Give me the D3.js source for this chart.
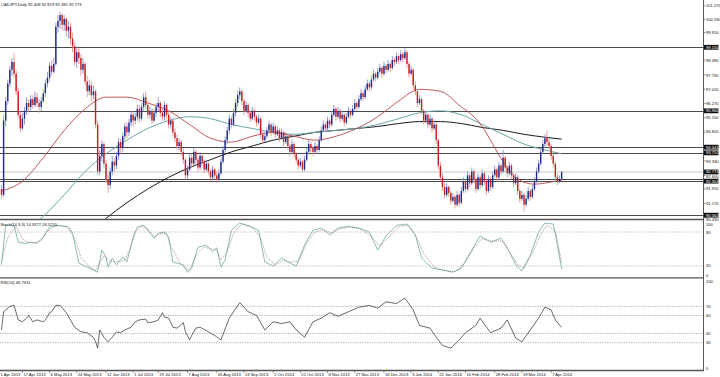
<!DOCTYPE html>
<html lang="en">
<head>
<meta charset="UTF-8">
<title>CADJPY,Daily</title>
<script src="https://d3js.org/d3.v7.min.js"></script>
<style>
  body { margin: 0; background: #fff; }
  svg text { font-family: "Liberation Sans", Arial, sans-serif; font-size: 4.1px; fill: #111; }
</style>
</head>
<body>
<div id="chart"></div>
<script>
// daily bars, [open, high, low, close], from 3 Apr 2013
const candles = [
  [91.90,92.10,91.40,91.60],[91.60,95.70,91.50,95.40],[95.40,96.60,95.10,96.40],[96.40,97.50,96.20,97.30],[97.30,98.20,97.10,98.00],
  [98.00,98.60,97.70,98.40],[98.40,98.85,97.60,97.80],[97.80,98.00,96.70,96.90],[96.90,97.10,95.50,95.70],[95.70,95.90,94.80,95.00],
  [95.00,95.80,94.90,95.50],[95.50,96.10,95.20,95.90],[95.90,96.60,95.70,96.30],[96.30,96.50,95.80,96.10],[96.10,96.70,95.90,96.50],
  [96.50,96.70,96.00,96.20],[96.20,96.90,96.10,96.60],[96.60,96.80,96.10,96.30],[96.30,96.50,95.80,96.10],[96.10,96.60,95.90,96.40],
  [96.40,97.00,96.30,96.80],[96.80,97.50,96.60,97.30],[97.30,97.90,97.10,97.60],[97.60,98.40,97.40,98.20],[98.20,98.50,97.70,97.90],
  [97.90,98.60,97.80,98.30],[98.30,100.40,98.20,100.20],[100.20,100.80,99.90,100.50],[100.50,100.97,100.10,100.80],[100.80,100.90,100.00,100.30],
  [100.30,100.80,100.00,100.60],[100.60,100.70,99.70,100.00],[100.00,100.50,99.60,100.20],[100.20,100.40,99.30,99.60],[99.60,99.90,98.90,99.20],
  [99.20,99.40,98.20,98.40],[98.40,99.20,98.10,98.90],[98.90,99.10,98.30,98.60],[98.60,98.80,97.70,98.00],[98.00,98.60,97.80,98.30],
  [98.30,98.40,97.20,97.40],[97.40,97.70,96.60,96.90],[96.90,97.50,96.70,97.20],[97.20,97.40,96.40,96.70],[96.70,97.20,96.50,96.90],
  [96.90,97.00,95.00,95.20],[95.20,95.40,92.60,92.80],[92.80,93.90,92.60,93.60],[93.60,94.40,93.30,94.20],[94.20,94.30,93.00,93.20],
  [93.20,93.40,92.20,92.40],[92.40,92.70,91.70,92.10],[92.10,93.00,91.90,92.80],[92.80,93.60,92.60,93.30],[93.30,93.50,92.80,93.10],
  [93.10,93.80,92.90,93.60],[93.60,94.50,93.40,94.30],[94.30,94.50,93.70,94.00],[94.00,94.80,93.80,94.60],[94.60,95.30,94.40,95.10],
  [95.10,95.30,94.50,94.80],[94.80,95.50,94.60,95.30],[95.30,95.90,95.10,95.70],[95.70,95.90,95.10,95.40],[95.40,95.80,95.20,95.60],
  [95.60,96.20,95.40,96.00],[96.00,96.20,95.30,95.50],[95.50,96.30,95.40,96.10],[96.10,96.80,95.90,96.60],[96.60,96.90,96.00,96.20],
  [96.20,96.40,95.50,95.70],[95.70,96.10,95.50,95.90],[95.90,96.00,95.20,95.40],[95.40,96.00,95.30,95.80],[95.80,96.30,95.60,96.10],
  [96.10,96.60,95.90,96.30],[96.30,96.40,95.60,95.80],[95.80,96.00,95.40,95.60],[95.60,96.40,95.40,96.20],[96.20,96.30,95.50,95.70],
  [95.70,95.90,95.00,95.20],[95.20,95.60,95.00,95.40],[95.40,95.50,94.60,94.80],[94.80,95.00,94.30,94.50],[94.50,94.70,93.90,94.10],
  [94.10,94.50,93.90,94.30],[94.30,94.40,93.60,93.80],[93.80,94.00,93.20,93.40],[93.40,93.50,92.40,92.60],[92.60,93.10,92.40,92.90],
  [92.90,93.70,92.80,93.50],[93.50,93.70,93.00,93.20],[93.20,94.00,93.10,93.80],[93.80,93.90,93.20,93.40],[93.40,93.50,92.80,93.00],
  [93.00,93.80,92.90,93.60],[93.60,93.70,93.10,93.30],[93.30,93.40,92.70,92.90],[92.90,93.40,92.80,93.20],[93.20,93.30,92.60,92.80],
  [92.80,92.90,92.30,92.50],[92.50,93.10,92.40,92.90],[92.90,93.00,92.40,92.60],[92.60,92.80,92.20,92.40],[92.40,92.90,92.30,92.70],
  [92.70,93.50,92.60,93.30],[93.30,94.10,93.20,93.90],[93.90,94.60,93.70,94.40],[94.40,95.10,94.20,94.90],[94.90,95.70,94.70,95.50],
  [95.50,95.60,95.00,95.20],[95.20,96.00,95.10,95.80],[95.80,96.50,95.60,96.30],[96.30,96.90,96.10,96.70],[96.70,97.10,96.50,96.90],
  [96.90,97.00,96.20,96.40],[96.40,96.50,95.70,95.90],[95.90,96.40,95.80,96.20],[96.20,96.30,95.60,95.80],[95.80,95.90,95.30,95.50],
  [95.50,96.10,95.40,95.90],[95.90,96.00,95.40,95.60],[95.60,95.70,95.10,95.30],[95.30,95.70,95.20,95.50],[95.50,95.60,94.50,94.70],
  [94.70,94.90,94.20,94.40],[94.40,94.80,94.30,94.60],[94.60,95.10,94.50,94.90],[94.90,95.40,94.80,95.20],[95.20,95.30,94.60,94.80],
  [94.80,95.30,94.70,95.10],[95.10,95.20,94.50,94.70],[94.70,95.10,94.60,94.90],[94.90,95.00,94.30,94.50],[94.50,95.00,94.40,94.80],
  [94.80,94.90,94.10,94.30],[94.30,94.80,94.20,94.60],[94.60,94.70,93.90,94.10],[94.10,94.20,93.60,93.80],[93.80,94.40,93.70,94.20],
  [94.20,94.30,93.50,93.70],[93.70,93.80,93.20,93.40],[93.40,93.50,92.90,93.10],[93.10,93.50,93.00,93.30],[93.30,93.40,92.80,92.90],
  [92.90,93.60,92.80,93.40],[93.40,94.00,93.30,93.80],[93.80,94.40,93.70,94.20],[94.20,94.30,93.80,94.00],[94.00,94.10,93.60,93.80],
  [93.80,94.30,93.70,94.10],[94.10,94.20,93.70,93.90],[93.90,94.60,93.80,94.40],[94.40,95.10,94.30,94.90],[94.90,95.40,94.80,95.20],
  [95.20,95.30,94.80,95.00],[95.00,95.60,94.90,95.40],[95.40,95.50,95.00,95.20],[95.20,95.90,95.10,95.70],[95.70,96.20,95.60,96.00],
  [96.00,96.10,95.40,95.60],[95.60,96.10,95.50,95.90],[95.90,96.00,95.30,95.50],[95.50,95.90,95.40,95.70],[95.70,95.80,95.10,95.30],
  [95.30,95.80,95.20,95.60],[95.60,96.10,95.50,95.90],[95.90,96.00,95.50,95.70],[95.70,96.20,95.60,96.00],[96.00,96.50,95.90,96.30],
  [96.30,96.40,95.90,96.10],[96.10,96.70,96.00,96.50],[96.50,97.00,96.40,96.80],[96.80,96.90,96.40,96.60],[96.60,97.20,96.50,97.00],
  [97.00,97.50,96.90,97.30],[97.30,97.40,96.90,97.10],[97.10,97.70,97.00,97.50],[97.50,98.00,97.40,97.80],[97.80,97.90,97.40,97.60],
  [97.60,98.10,97.50,97.90],[97.90,98.30,97.80,98.10],[98.10,98.20,97.60,97.80],[97.80,98.40,97.70,98.20],[98.20,98.30,97.80,98.00],
  [98.00,98.50,97.90,98.30],[98.30,98.40,97.90,98.10],[98.10,98.70,98.00,98.50],[98.50,98.60,98.20,98.40],[98.40,98.90,98.30,98.70],
  [98.70,98.80,98.30,98.50],[98.50,99.00,98.40,98.80],[98.80,98.90,98.40,98.60],[98.60,99.10,98.50,98.90],[98.90,99.00,98.10,98.30],
  [98.30,98.40,97.60,97.80],[97.80,98.20,97.70,98.00],[98.00,98.10,97.00,97.20],[97.20,97.40,96.70,96.90],[96.90,97.00,96.10,96.30],
  [96.30,96.70,96.20,96.50],[96.50,96.60,95.70,95.90],[95.90,96.00,95.20,95.40],[95.40,95.90,95.30,95.70],[95.70,95.80,95.00,95.20],
  [95.20,95.70,95.10,95.50],[95.50,95.60,94.80,95.00],[95.00,95.40,94.90,95.20],[95.20,95.30,94.20,94.40],[94.40,94.50,92.90,93.10],
  [93.10,93.30,92.30,92.50],[92.50,92.70,91.80,92.00],[92.00,92.20,91.40,91.60],[91.60,92.20,91.50,92.00],[92.00,92.10,91.50,91.70],
  [91.70,91.80,91.10,91.30],[91.30,91.70,91.20,91.50],[91.50,91.60,90.90,91.10],[91.10,91.80,91.00,91.60],[91.60,91.70,91.00,91.20],
  [91.20,92.00,91.10,91.80],[91.80,92.50,91.70,92.30],[92.30,92.40,91.70,91.90],[91.90,92.80,91.80,92.60],[92.60,92.70,92.00,92.20],
  [92.20,93.00,92.10,92.80],[92.80,92.90,92.20,92.40],[92.40,92.50,91.70,91.90],[91.90,92.70,91.80,92.50],[92.50,92.60,91.90,92.10],
  [92.10,92.90,92.00,92.70],[92.70,92.80,92.10,92.30],[92.30,92.40,91.60,91.80],[91.80,92.60,91.70,92.40],[92.40,92.50,91.80,92.00],
  [92.00,92.80,91.90,92.60],[92.60,93.10,92.50,92.90],[92.90,93.00,92.30,92.50],[92.50,93.30,92.40,93.10],[93.10,93.20,92.60,92.80],
  [92.80,93.90,92.70,93.50],[93.50,93.60,92.80,93.00],[93.00,93.10,92.50,92.70],[92.70,93.30,92.60,93.10],[93.10,93.20,92.40,92.60],
  [92.60,92.70,92.00,92.20],[92.20,92.70,92.10,92.50],[92.50,92.60,91.60,91.80],[91.80,91.90,91.20,91.40],[91.40,91.80,91.30,91.60],
  [91.60,91.70,90.75,91.10],[91.10,91.60,91.00,91.40],[91.40,92.00,91.30,91.80],[91.80,91.90,91.30,91.50],[91.50,92.10,91.40,91.90],
  [91.90,92.50,91.80,92.30],[92.30,93.00,92.20,92.80],[92.80,93.40,92.70,93.20],[93.20,94.00,93.10,93.80],[93.80,94.40,93.70,94.20],
  [94.20,94.70,94.00,94.50],[94.50,94.91,94.10,94.30],[94.30,94.50,93.90,94.10],[94.10,94.20,93.40,93.60],[93.60,93.80,93.00,93.20],
  [93.20,93.30,92.30,92.50],[92.50,92.70,92.10,92.30],[92.30,92.60,92.20,92.41],[92.408,92.819,92.385,92.773]
];

// moving averages, [bar, price]
const maRed = [[0,91.8],[10,92.3],[20,93.5],[30,94.9],[40,96.0],[50,96.6],[60,96.6],[70,96.3],[80,95.9],[90,95.2],[100,94.5],[110,94.3],[120,94.6],[130,94.8],[140,94.6],[150,94.4],[160,94.6],[170,95.0],[180,95.6],[190,96.4],[200,97.0],[210,96.9],[220,96.1],[225,95.7],[230,95.1],[235,94.2],[240,93.3],[245,92.6],[250,92.25],[255,92.15],[260,92.2],[265,92.3],[268,92.35]];
const maTeal = [[0,88.9],[10,89.6],[20,90.5],[30,91.6],[40,92.8],[50,93.7],[60,94.4],[70,95.0],[80,95.4],[90,95.6],[100,95.5],[110,95.2],[120,95.0],[130,94.8],[140,94.7],[150,94.8],[160,94.9],[170,95.0],[180,95.2],[190,95.5],[200,95.8],[210,95.9],[220,95.7],[230,95.2],[240,94.7],[250,94.2],[260,93.9],[268,93.7]];
const maBlack = [[40,89.5],[50,90.4],[60,91.2],[70,91.9],[80,92.5],[90,93.0],[100,93.4],[110,93.8],[120,94.1],[130,94.4],[140,94.6],[150,94.8],[160,94.9],[170,95.0],[180,95.1],[190,95.25],[200,95.35],[210,95.35],[220,95.25],[230,95.05],[240,94.9],[250,94.7],[260,94.55],[268,94.45]];

// horizontal levels drawn on the chart
const levels = [99.150, 95.900, 94.041, 93.751, 92.420, 92.304, 90.562];
const boxedLevels = [99.150, 95.900, 94.041, 93.751, 92.304, 90.562];
const bidPrice = 92.773;
const priceTicks = [101.270, 100.590, 99.910, 98.490, 97.730, 97.010, 96.270, 95.550, 94.820, 93.330, 92.600, 91.910, 91.170, 90.430];

// stochastic (14,3,3), [bar, value]
const stochMain = [[0,22],[2,92],[6,92],[8,62],[11,60],[14,62],[17,60],[20,71],[23,89],[27,92],[32,89],[34,78],[37,25],[41,18],[44,13],[46,9],[48,48],[50,36],[51,18],[53,34],[55,22],[58,36],[60,27],[63,71],[65,89],[68,92],[70,83],[73,69],[75,78],[78,80],[80,71],[82,27],[87,22],[89,9],[91,16],[94,53],[98,57],[101,45],[103,52],[105,18],[107,31],[110,83],[114,96],[119,90],[123,83],[126,27],[130,20],[134,34],[137,27],[141,20],[145,57],[149,83],[153,87],[157,75],[161,87],[166,90],[171,87],[176,80],[180,48],[184,73],[189,92],[194,94],[198,75],[201,34],[206,16],[211,13],[216,9],[220,16],[225,48],[229,73],[234,62],[239,69],[243,45],[246,22],[249,11],[253,39],[257,80],[260,96],[264,94],[266,57],[268,14.9]];
const stochSignal = [[0,30],[3,70],[7,90],[10,68],[13,61],[16,61],[19,65],[22,82],[26,91],[31,90],[35,70],[38,35],[42,19],[45,12],[47,25],[49,38],[52,28],[54,27],[57,28],[59,31],[62,55],[64,80],[67,90],[70,86],[73,72],[76,77],[79,77],[81,55],[85,28],[88,15],[90,13],[93,38],[97,54],[100,50],[103,49],[105,30],[108,45],[111,78],[115,94],[120,88],[124,70],[127,35],[131,22],[135,30],[138,27],[142,28],[146,60],[150,80],[154,84],[158,78],[162,86],[167,89],[172,85],[177,72],[181,55],[185,70],[190,90],[195,92],[199,68],[202,42],[207,18],[212,12],[217,10],[221,22],[226,52],[230,68],[235,64],[240,64],[244,40],[247,22],[250,16],[254,42],[258,76],[261,92],[265,82],[267,45],[268,26.5]];

// RSI(14), [bar, value]
const rsi = [[0,44],[1,64],[4,70],[6,71],[8,55],[10,53],[12,57],[13,60],[15,53],[17,55],[20,53],[21,55],[23,63],[24,64],[26,71],[28,71],[31,63],[33,55],[35,47],[38,42],[41,41],[44,36],[45,31],[46,24],[47,44],[49,36],[51,31],[53,36],[55,42],[57,41],[59,44],[62,47],[64,53],[66,55],[69,56],[70,52],[73,53],[75,55],[77,63],[78,58],[80,57],[82,47],[84,46],[87,52],[88,42],[90,33],[91,38],[93,46],[95,47],[99,42],[102,38],[105,33],[109,57],[114,74],[118,64],[122,60],[126,44],[130,53],[134,51],[138,53],[141,44],[145,36],[149,53],[153,57],[157,63],[161,59],[166,64],[171,69],[176,71],[180,68],[184,75],[189,73],[193,79],[197,66],[200,49],[205,46],[209,33],[211,27],[215,24],[219,33],[222,41],[227,49],[229,57],[234,41],[239,46],[242,55],[246,35],[249,31],[253,44],[257,57],[260,69],[263,66],[265,55],[268,46.76]];

const dateTicks = [[-1,'1 Apr 2013'],[10,'17 Apr 2013'],[23,'6 May 2013'],[36,'24 May 2013'],[50,'12 Jun 2013'],[63,'1 Jul 2013'],[75,'19 Jul 2013'],[89,'7 Aug 2013'],[103,'26 Aug 2013'],[116,'13 Sep 2013'],[130,'2 Oct 2013'],[143,'21 Oct 2013'],[156,'8 Nov 2013'],[169,'27 Nov 2013'],[183,'16 Dec 2013'],[196,'3 Jan 2014'],[209,'22 Jan 2014'],[222,'10 Feb 2014'],[236,'28 Feb 2014'],[249,'19 Mar 2014'],[263,'7 Apr 2014']];

const W = 720, H = 377;
const plotRight = 703.5;
const mainTop = 0, mainBottom = 219;
const stTop = 220.7, stBottom = 277.3;
const rsiTop = 279, rsiBottom = 370;

const svg = d3.select('#chart').append('svg')
  .attr('width', W).attr('height', H)
  .style('display', 'block');

const x = d3.scaleLinear().domain([0, 336]).range([1.5, 1.5 + 336 * 2.09]);
const y = d3.scaleLinear().domain([90.367, 101.57]).range([mainBottom, mainTop]);
const yS = d3.scaleLinear().domain([0, 100]).range([stBottom, stTop]);
const yR = d3.scaleLinear().domain([0, 100]).range([rsiBottom, rsiTop]);

svg.append('defs').append('clipPath').attr('id', 'clipMain')
  .append('rect').attr('x', 0).attr('y', 0).attr('width', plotRight).attr('height', mainBottom);

const main = svg.append('g').attr('clip-path', 'url(#clipMain)');

// bid line
main.append('line')
  .attr('x1', 0).attr('x2', plotRight)
  .attr('y1', y(bidPrice)).attr('y2', y(bidPrice))
  .attr('stroke', '#c8c8c8').attr('stroke-width', 1);

// support / resistance
main.selectAll('.lvl').data(levels).join('line')
  .attr('class', 'lvl')
  .attr('x1', 0).attr('x2', plotRight)
  .attr('y1', d => Math.round(y(d)) + 0.5).attr('y2', d => Math.round(y(d)) + 0.5)
  .attr('stroke', '#4a4a4a').attr('stroke-width', 1.2);

// moving averages
const maLine = d3.line().x(d => x(d[0])).y(d => y(d[1])).curve(d3.curveMonotoneX);
main.append('path').datum(maBlack).attr('d', maLine)
  .attr('fill', 'none').attr('stroke', '#1a1a1a').attr('stroke-width', 1);
main.append('path').datum(maTeal).attr('d', maLine)
  .attr('fill', 'none').attr('stroke', '#6aa5a8').attr('stroke-width', 1);
main.append('path').datum(maRed).attr('d', maLine)
  .attr('fill', 'none').attr('stroke', '#b8474a').attr('stroke-width', 0.9);

// candles
const up = '#1c2a8c', down = '#c81e1e';
const bars = main.selectAll('.bar').data(candles).join('g').attr('class', 'bar');
bars.append('line')
  .attr('x1', (d, i) => x(i)).attr('x2', (d, i) => x(i))
  .attr('y1', d => y(d[1])).attr('y2', d => y(d[2]))
  .attr('stroke', d => d[3] >= d[0] ? '#7d86c4' : '#e08a8a')
  .attr('stroke-width', 0.8);
bars.append('rect')
  .attr('x', (d, i) => x(i) - 0.7).attr('width', 1.4)
  .attr('y', d => y(Math.max(d[0], d[3])))
  .attr('height', d => Math.max(0.6, Math.abs(y(d[0]) - y(d[3]))))
  .attr('fill', d => d[3] >= d[0] ? up : down);

// title
svg.append('text').attr('x', 1).attr('y', 6)
  .text('CADJPY,Daily  92.408 92.819 92.385 92.773');

// price axis labels, nudged off the boxed level labels
const axisX = plotRight + 2.5;
const boxed = boxedLevels.concat([bidPrice]);
const boxYs = boxed.map(d => y(d));
function tickY(d) {
  let ty = y(d);
  boxYs.forEach(b => {
    if (Math.abs(ty - b) < 4.2) ty = b + (ty > b ? 4.2 : -4.2);
  });
  return ty + 1.5;
}
svg.selectAll('.ptick').data(priceTicks).join('text')
  .attr('class', 'ptick')
  .attr('x', axisX).attr('y', tickY)
  .text(d => d.toFixed(3));
svg.selectAll('.ptm').data(priceTicks).join('line')
  .attr('class', 'ptm')
  .attr('x1', plotRight).attr('x2', plotRight + 2)
  .attr('y1', d => y(d)).attr('y2', d => y(d))
  .attr('stroke', '#333').attr('stroke-width', 0.6);

// boxed labels for levels and bid
const boxG = svg.selectAll('.box').data(boxed).join('g').attr('class', 'box');
boxG.append('rect')
  .attr('x', plotRight + 0.5).attr('width', 14.5)
  .attr('y', d => y(d) - 2.4).attr('height', 4.8)
  .attr('fill', '#111');
boxG.append('text')
  .attr('x', axisX).attr('y', d => y(d) + 1.5)
  .style('fill', '#fff')
  .text(d => d.toFixed(3));

// stochastic panel
[80, 20].forEach(v => {
  svg.append('line').attr('x1', 0).attr('x2', plotRight)
    .attr('y1', yS(v)).attr('y2', yS(v))
    .attr('stroke', '#9a9a9a').attr('stroke-width', 0.6).attr('stroke-dasharray', '1.2,1.2');
});
const stLine = d3.line().x(d => x(d[0])).y(d => yS(d[1]));
svg.append('path').datum(stochMain).attr('d', stLine)
  .attr('fill', 'none').attr('stroke', '#7fb2b0').attr('stroke-width', 0.9);
svg.append('path').datum(stochSignal).attr('d', stLine)
  .attr('fill', 'none').attr('stroke', '#8a6d6d').attr('stroke-width', 0.7).attr('stroke-dasharray', '1,1');
svg.append('text').attr('x', 0.5).attr('y', 225.5)
  .text('Stoch(14,3,3) 14.9277 26.5255');
[[100, 5], [80, 1.5], [20, 1.5], [0, -0.5]].forEach(([v, dy]) => {
  svg.append('text').attr('x', axisX).attr('y', yS(v) + dy).text(v);
});

// RSI panel
[70, 60, 40, 30].forEach(v => {
  svg.append('line').attr('x1', 0).attr('x2', plotRight)
    .attr('y1', yR(v)).attr('y2', yR(v))
    .attr('stroke', '#777').attr('stroke-width', 0.6).attr('stroke-dasharray', '1.2,1.2');
});
const rsiLine = d3.line().x(d => x(d[0])).y(d => yR(d[1]));
svg.append('path').datum(rsi).attr('d', rsiLine)
  .attr('fill', 'none').attr('stroke', '#2b2b2b').attr('stroke-width', 0.7);
svg.append('text').attr('x', 0.5).attr('y', 284)
  .text('RSI(14) 46.7631');
[[100, 3.5], [70, 1.5], [60, 1.5], [40, 1.5], [30, 1.5], [0, -0.5]].forEach(([v, dy]) => {
  svg.append('text').attr('x', axisX).attr('y', yR(v) + dy).text(v);
});

// panel separators and right axis
[mainBottom + 0.5, stBottom + 0.5, rsiBottom + 0.5].forEach(v => {
  svg.append('line').attr('x1', 0).attr('x2', plotRight)
    .attr('y1', v).attr('y2', v)
    .attr('stroke', '#555').attr('stroke-width', 1.3);
});
svg.append('line').attr('x1', plotRight).attr('x2', plotRight)
  .attr('y1', 0).attr('y2', rsiBottom + 1)
  .attr('stroke', '#555').attr('stroke-width', 1);

// date axis
svg.selectAll('.dtick').data(dateTicks).join('text')
  .attr('class', 'dtick')
  .attr('x', d => Math.max(0.5, x(d[0]) + 1)).attr('y', 375.5)
  .text(d => d[1]);
svg.selectAll('.dtm').data(dateTicks).join('line')
  .attr('class', 'dtm')
  .attr('x1', d => x(d[0])).attr('x2', d => x(d[0]))
  .attr('y1', rsiBottom + 1).attr('y2', rsiBottom + 3)
  .attr('stroke', '#555').attr('stroke-width', 0.6);
</script>
</body>
</html>
